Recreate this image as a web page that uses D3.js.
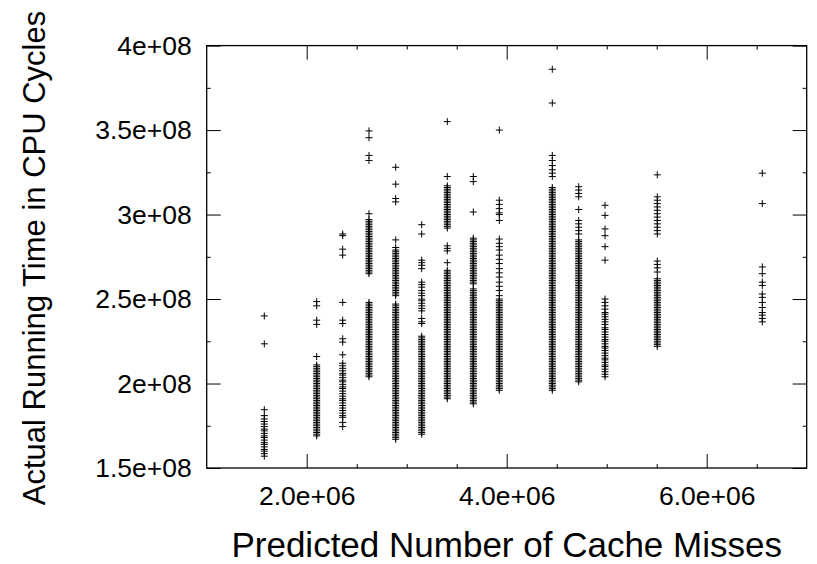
<!DOCTYPE html>
<html>
<head>
  <meta charset="utf-8">
  <title></title>
  <style>
    body,html{
      margin:0;
      padding:0;
      background:#fff;
    }
    svg text{
      font-family: "Liberation Sans", Arial, Helvetica, sans-serif;
      fill:#000;
    }
    .tick line{
      stroke:#000;
    }
  </style>
</head>
<body>
  <div id="container"></div>
  <script src="https://d3js.org/d3.v7.min.js"></script>
  <script type="text/javascript">

    // x: predicted cache misses (millions), one value per column of runs
    var misses = [1.576, 2.10, 2.36, 2.623, 2.89, 3.15, 3.406, 3.666, 3.926, 4.456, 4.72, 4.983, 5.506, 6.556];

    // y: actual running time (millions of cycles), one list per column above
    var cycles = [
      [240, 223.5, 184.5, 181, 179, 177.5, 176, 174.5, 173, 172, 170.5, 169, 168, 166.5, 165, 164, 162.5, 161, 160, 158.5, 157],
      [248.5, 246, 237.5, 235, 216,
        211, 210, 209, 208, 207, 206, 205, 204, 203, 202, 201, 200, 199, 198, 197, 196, 195, 194, 193, 192, 191,
        190, 189, 188, 187, 186, 185, 184, 183, 182, 181, 180, 179, 178, 177, 176, 175, 174, 173, 172, 171, 170, 169],
      [288.5, 287.5, 279.5, 276, 248, 237.5, 235.5, 226.5, 224.5, 217,
        212, 210.5, 209, 207.5, 206, 205, 203.5, 202, 201, 199.5, 198, 197, 195.5, 194, 192.5, 191, 190, 188.5,
        187, 185.5, 184, 182.5, 181, 180, 177, 174.5],
      [349.5, 345.5, 335, 332, 300.5,
        297, 296, 295, 294, 293, 292, 291, 290, 289, 288, 287, 286, 285, 284, 283, 282, 281, 280, 279, 278, 277,
        276, 275, 274, 273, 272, 271, 270, 269, 268, 267, 266, 265,
        248, 247, 246, 245, 244, 243, 242, 241, 240, 239, 238, 237, 236, 235, 234, 233, 232, 231, 230, 229, 228,
        227, 226, 225, 224, 223, 222, 221, 220, 219, 218, 217, 216, 215, 214, 213, 212, 211, 210, 209, 208, 207,
        206, 205, 204],
      [328, 318, 309.5, 307.5, 285, 280.5,
        279, 278, 277, 276, 275, 274, 273, 272, 271, 270, 269, 268, 267, 266, 265, 264, 263, 262, 261, 260, 259,
        258, 257, 256, 255, 254, 253, 252,
        247, 246, 245, 244, 243, 242, 241, 240, 239, 238, 237, 236, 235, 234, 233, 232, 231, 230, 229, 228, 227,
        226, 225, 224, 223, 222, 221, 220, 219, 218, 217, 216, 215, 214, 213, 212, 211, 210, 209, 208, 207, 206,
        205, 204, 203, 202, 201, 200, 199, 198, 197, 196, 195, 194, 193, 192, 191, 190, 189, 188, 187, 186, 185,
        184, 183, 182, 181, 180, 179, 178, 177, 176, 175, 174, 173, 172, 171, 170, 169, 168, 167],
      [294, 288.5, 273, 271.5, 270, 268, 260, 258.5, 257, 255, 253.5, 252, 250, 249, 247.5, 246, 244.5, 243,
        238.5, 236.5, 235.5,
        228, 227, 226, 225, 224, 223, 222, 221, 220, 219, 218, 217, 216, 215, 214, 213, 212, 211, 210, 209, 208,
        207, 206, 205, 204, 203, 202, 201, 200, 199, 198, 197, 196, 195, 194, 193, 192, 191, 190, 189, 188, 187,
        186, 185, 184, 183, 182, 181, 180, 179, 178, 177, 176, 175, 174, 173, 172, 171, 170],
      [355, 322.5,
        317, 316, 315, 314, 313, 312, 311, 310, 309, 308, 307, 306, 305, 304, 303, 302, 301, 300, 299, 298, 297,
        296, 295, 294, 293, 292,
        281.5, 280, 278.5, 271.5,
        267, 266, 265, 264, 263, 262, 261, 260, 259, 258, 257, 256, 255, 254, 253, 252, 251, 250, 249, 248, 247,
        246, 245, 244, 243, 242, 241, 240, 239, 238, 237, 236, 235, 234, 233, 232, 231, 230, 229, 228, 227, 226,
        225, 224, 223, 222, 221, 220, 219, 218, 217, 216, 215, 214, 213, 212, 211, 210, 209, 208, 207, 206, 205,
        204, 203, 202, 201, 200, 199, 198, 197, 196, 195, 194, 193, 192, 191],
      [322.5, 319.5, 301.5,
        286, 285, 284, 283, 282, 281, 280, 279, 278, 277, 276, 275, 274, 273, 272, 271, 270, 269, 268, 267, 266,
        265, 264, 263, 262, 261, 260, 259,
        256, 255, 254, 253, 252, 251, 250, 249, 248, 247, 246, 245, 244, 243, 242, 241, 240, 239, 238, 237, 236,
        235, 234, 233, 232, 231, 230, 229, 228, 227, 226, 225, 224, 223, 222, 221, 220, 219, 218, 217, 216, 215,
        214, 213, 212, 211, 210, 209, 208, 207, 206, 205, 204, 203, 202, 201, 200, 199, 198, 197, 196, 195, 194,
        193, 192, 191, 190, 189, 188],
      [350, 308.5, 306, 303.5, 301, 300, 296.5, 285.5, 283, 281, 279, 276, 273.5, 271, 268, 265.5, 263, 260,
        257.5, 255, 252, 250,
        249, 248, 247, 246, 245, 244, 243, 242, 241, 240, 239, 238, 237, 236, 235, 234, 233, 232, 231, 230, 229,
        228, 227, 226, 225, 224, 223, 222, 221, 220, 219, 218, 217, 216, 215, 214, 213, 212, 211, 210, 209, 208,
        207, 206, 205, 204, 203, 202, 201, 200, 199, 198, 197, 196],
      [386, 366, 335, 332, 329, 326.5, 324.5, 322.5,
        316, 315, 314, 313, 312, 311, 310, 309, 308, 307, 306, 305, 304, 303, 302, 301, 300, 299, 298, 297, 296,
        295, 294, 293, 292, 291, 290, 289, 288, 287, 286, 285, 284, 283, 282, 281, 280, 279, 278, 277, 276, 275,
        274, 273, 272, 271, 270, 269, 268, 267, 266, 265, 264, 263, 262, 261, 260, 259, 258, 257, 256, 255, 254,
        253, 252, 251, 250, 249, 248, 247, 246, 245, 244, 243, 242, 241, 240, 239, 238, 237, 236, 235, 234, 233,
        232, 231, 230, 229, 228, 227, 226, 225, 224, 223, 222, 221, 220, 219, 218, 217, 216, 215, 214, 213, 212,
        211, 210, 209, 208, 207, 206, 205, 204, 203, 202, 201, 200, 199, 198, 197, 196],
      [316.5, 314.5, 312.5, 310.5, 303, 296.5, 294.5, 292.5, 290.5, 288.5,
        285, 284, 283, 282, 281, 280, 279, 278, 277, 276, 275, 274, 273, 272, 271, 270, 269, 268, 267, 266, 265,
        264, 263, 262, 261, 260, 259, 258, 257, 256, 255, 254, 253, 252, 251, 250, 249, 248, 247, 246, 245, 244,
        243, 242, 241, 240, 239, 238, 237, 236, 235, 234, 233, 232, 231, 230, 229, 228, 227, 226, 225, 224, 223,
        222, 221, 220, 219, 218, 217, 216, 215, 214, 213, 212, 211, 210, 209, 208, 207, 206, 205, 204, 203, 202, 201],
      [305.5, 299.5, 291.5, 287.5, 281, 273,
        250, 248, 246, 244, 242, 241, 239.5, 238, 236.5, 235, 233, 232, 230.5, 229, 227.5, 226, 225, 223.5, 222,
        221, 219.5, 218, 216.5, 215, 214, 212.5, 211, 210, 208.5, 207, 205.5, 204],
      [323.5, 310.5, 308.5, 306.5, 304.5, 302.5, 300.5, 298.5, 296.5, 294.5, 292.5, 290.5, 288.5,
        272.5, 270.5, 268.5, 266,
        262, 261, 260, 259, 258, 257, 256, 255, 254, 253, 252, 251, 250, 249, 248, 247, 246, 245, 244, 243, 242,
        241, 240, 239, 238, 237, 236, 235, 234, 233, 232, 231, 230, 229, 228, 227, 226, 225, 224, 223, 222],
      [324.5, 306.5, 269, 265, 260, 258, 253, 251, 248, 245, 242, 240.5, 238.5, 236.5]
    ];

    var xMajor = [2, 4, 6];
    var xTickLabels = ['2.0e+06', '4.0e+06', '6.0e+06'];
    var xMinor = [2.5, 3, 3.5, 4.5, 5, 5.5, 6.5];

    var yMajor = [150, 200, 250, 300, 350, 400];
    var yTickLabels = ['1.5e+08', '2e+08', '2.5e+08', '3e+08', '3.5e+08', '4e+08'];
    var yMinor = [175, 225, 275, 325, 375];

    var width = 817, height = 564;
    var frame = {left:206.7, right:806.7, top:45.6, bottom:468};

    var svg = d3.select('#container').append('svg')
      .attr('width', width)
      .attr('height', height);

    var x = d3.scaleLinear().domain([1, 7]).range([frame.left, frame.right]);
    var y = d3.scaleLinear().domain([150, 400]).range([frame.bottom, frame.top]);

    var pts = [];
    misses.forEach(function(m, i){
      cycles[i].forEach(function(c){ pts.push([m, c]); });
    });

    // gnuplot style ticks: inward, mirrored on all four sides
    function axis(gen, vals, size, labels){
      var a = gen.tickValues(vals).tickSizeInner(size).tickSizeOuter(0);
      a.tickFormat(labels ? function(d, i){ return labels[i]; } : function(){ return ''; });
      return a;
    }

    var gx = svg.append('g').attr('transform', 'translate(0,' + frame.bottom + ')')
      .call(axis(d3.axisBottom(x), xMajor, -14, xTickLabels).tickPadding(18));
    svg.append('g').attr('transform', 'translate(0,' + frame.bottom + ')')
      .call(axis(d3.axisBottom(x), xMinor, -4));
    svg.append('g').attr('transform', 'translate(0,' + frame.top + ')')
      .call(axis(d3.axisTop(x), xMajor, -14));
    svg.append('g').attr('transform', 'translate(0,' + frame.top + ')')
      .call(axis(d3.axisTop(x), xMinor, -4));

    var gy = svg.append('g').attr('transform', 'translate(' + frame.left + ',0)')
      .call(axis(d3.axisLeft(y), yMajor, -14, yTickLabels).tickPadding(15));
    svg.append('g').attr('transform', 'translate(' + frame.left + ',0)')
      .call(axis(d3.axisLeft(y), yMinor, -4));
    svg.append('g').attr('transform', 'translate(' + frame.right + ',0)')
      .call(axis(d3.axisRight(y), yMajor, -14));
    svg.append('g').attr('transform', 'translate(' + frame.right + ',0)')
      .call(axis(d3.axisRight(y), yMinor, -4));

    svg.selectAll('.domain').remove();
    svg.selectAll('.tick text')
      .attr('font-family', null)
      .style('font-size', '26.5px');

    svg.append('rect')
      .attr('x', frame.left)
      .attr('y', frame.top)
      .attr('width', frame.right - frame.left)
      .attr('height', frame.bottom - frame.top)
      .attr('fill', 'none')
      .attr('stroke', '#000')
      .attr('stroke-width', 1.3);

    svg.append('g').selectAll('path').data(pts).enter().append('path')
      .attr('d', 'M-3.5,0H3.5M0,-3.5V3.5')
      .attr('transform', function(d){ return 'translate(' + x(d[0]) + ',' + y(d[1]) + ')'; })
      .attr('fill', 'none')
      .attr('stroke', '#000')
      .attr('stroke-width', 1);

    svg.append('text')
      .attr('x', (frame.left + frame.right) / 2)
      .attr('y', 557)
      .attr('text-anchor', 'middle')
      .style('font-size', '35px')
      .text('Predicted Number of Cache Misses');

    svg.append('text')
      .attr('transform', 'translate(45,258) rotate(-90)')
      .attr('text-anchor', 'middle')
      .style('font-size', '31px')
      .text('Actual Running Time in CPU Cycles');

  </script>
</body>
</html>
